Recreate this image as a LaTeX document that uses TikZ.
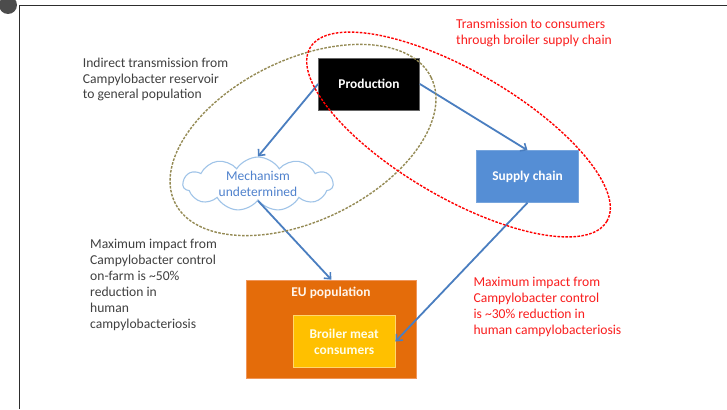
\documentclass[tikz,border=0pt]{standalone}
\usepackage{fontspec}
\setmainfont{Carlito}
\usetikzlibrary{arrows.meta,shapes.symbols}
\definecolor{txtgray}{RGB}{64,64,64}
\definecolor{txtred}{RGB}{250,30,30}
\definecolor{arrblue}{RGB}{74,126,192}
\definecolor{supblue}{RGB}{85,142,213}
\definecolor{cloudline}{RGB}{160,196,232}
\definecolor{cloudtxt}{RGB}{80,130,205}
\definecolor{euorange}{RGB}{228,108,10}
\definecolor{euline}{RGB}{240,150,90}
\definecolor{gold}{RGB}{255,192,0}
\definecolor{goldline}{RGB}{255,214,110}
\definecolor{olive}{RGB}{148,138,84}
\definecolor{framegray}{RGB}{45,45,45}
\tikzset{
  txt/.style={font=\fontsize{13.6}{15.9}\selectfont, align=left, anchor=north west, inner sep=0pt},
  boxnode/.style={rectangle, inner sep=0pt, font=\fontsize{13.4}{15.9}\selectfont\bfseries, align=center, line width=0.8pt},
  conn/.style={draw=arrblue, line width=1.8pt, -{Straight Barb[length=5pt,width=9pt,line width=1.6pt]}},
  dashell/.style={line width=1.4pt, dash pattern=on 2.6pt off 1.4pt},
}
\begin{document}
\begin{tikzpicture}[x=1pt,y=1pt]
\useasboundingbox (0,0) rectangle (727,-409);
\fill[white] (0,0) rectangle (727,-409);
% frame
\fill[framegray!85] (8,-5) circle (9pt);
\draw[framegray, line width=1.5pt] (19.5,-409) -- (19.5,-5.7) -- (727,-5.7);

% boxes
\node[boxnode, fill=black, draw=black!60, text=white, minimum width=101pt, minimum height=52pt] (prod) at (369,-84) {Production};
\node[boxnode, fill=supblue, draw=supblue!80!white, text=white, minimum width=101.6pt, minimum height=51.6pt] (supply) at (527.5,-176.5) {Supply chain};
\node[cloud, cloud puffs=11, cloud puff arc=115, aspect=2.9, draw=cloudline, line width=1.1pt, fill=white, minimum width=150pt, minimum height=52pt, inner sep=0pt, text=cloudtxt, font=\fontsize{13.5}{15.9}\selectfont, align=center] (cloud) at (258,-184) {Mechanism\\undetermined};
\node[boxnode, fill=euorange, draw=euline, minimum width=170.7pt, minimum height=98.3pt] (eu) at (331.3,-329.2) {};
\node[boxnode, text=white!92!orange, anchor=center] (eulabel) at (331,-293.3) {EU population};
\node[boxnode, fill=gold, draw=goldline, text=white!90!yellow, minimum width=101.7pt, minimum height=51.6pt] (broiler) at (344.2,-341.5) {Broiler meat\\consumers};

% texts
\node[txt, text=txtgray] (t1) at (82.7,-57.5) {Indirect transmission from\\Campylobacter reservoir\\to general population};
\node[txt, text=txtred] (t2) at (456,-18.6) {Transmission to consumers\\through broiler supply chain};
\node[txt, text=txtgray] (t3) at (90,-239.3) {Maximum impact from\\Campylobacter control\\on-farm is \textasciitilde50\%\\reduction in\\human\\campylobacteriosis};
\node[txt, text=txtred] (t4) at (473.3,-277) {Maximum impact from\\Campylobacter control\\is \textasciitilde30\% reduction in\\human campylobacteriosis};

% connectors
\draw[conn] (prod.west) -- (cloud.north);
\draw[conn] (prod.east) -- (supply.north);
\draw[conn] (cloud.south) -- (eu.north);
\draw[conn] (supply.south) -- (broiler.east);

% ellipses
\draw[dashell, olive] (303,-140) ellipse [x radius=142.6pt, y radius=80.5pt, rotate=26];
\draw[dashell, red] (458.5,-134.5) ellipse [x radius=171.9pt, y radius=63.1pt, rotate=-30.3];
\end{tikzpicture}
\end{document}
